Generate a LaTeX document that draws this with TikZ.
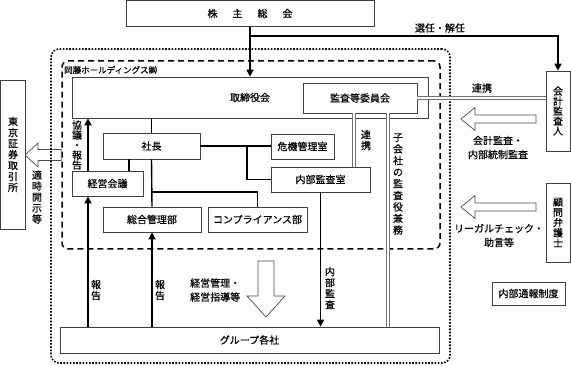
\documentclass[tikz,border=0pt]{standalone}
\usepackage{fontspec}
\setmainfont{Noto Sans CJK JP}[FakeBold=0.6]
\usetikzlibrary{arrows.meta, positioning}

\begin{document}
\begin{tikzpicture}[
    x=1pt, y=-1pt,
    box/.style={rectangle, draw=black!75, line width=0.7pt, fill=white, inner sep=0pt,
                font=\fontsize{10}{11}\selectfont, align=center},
    conn/.style={line width=1.4pt},
    arrow/.style={-{Triangle[length=7pt, width=7pt]}, line width=1.4pt},
    dbl/.style={draw=black!55, double=white, double distance=1.8pt, line width=0.7pt},
    hollow/.style={draw=black!70, fill=white, line width=0.7pt},
    lbl/.style={font=\fontsize{10}{14}\selectfont, align=center, inner sep=0pt},
    vlbl/.style={font=\fontsize{10}{11}\selectfont, align=center, inner sep=0pt}
  ]
    \useasboundingbox (0,0) rectangle (571,366);

    % frames
    \node[draw, line width=1.5pt, dash pattern=on 6pt off 4pt, rounded corners=6pt,
          minimum width=378, minimum height=188] (hd) at (251,155) {};
    \draw[hollow] (25,155) -- ++(13,-12) -- ++(0,6.5) -- (hd.west |- 0,149.5)
        -- (hd.west |- 0,160.5) -- (38,160.5) -- (38,167) -- cycle;
    \node[draw, line width=1.6pt, dash pattern=on 1.6pt off 1.6pt, rounded corners=8pt,
          minimum width=399, minimum height=314] (gf) at (250.5,206) {};
    \node[anchor=west, inner sep=0pt, font=\fontsize{8.5}{10}\selectfont] (hdname) at (64,70) {岡藤ホールディングス㈱};

    % boxes
    \node[box, minimum width=248, minimum height=26] (gsm) at (250,13.5)
        {株\hspace*{15pt}主\hspace*{15pt}総\hspace*{15pt}会};
    \node[box, minimum width=356, minimum height=41] (board) at (250,97.5) {取締役会};
    \node[box, minimum width=114, minimum height=30] (acb) at (360,98) {監査等委員会};
    \node[box, minimum width=24, minimum height=80, font=\fontsize{10}{10}\selectfont] (aud) at (558,111)
        {会\\計\\監\\査\\人};
    \node[box, minimum width=24, minimum height=79, font=\fontsize{10}{10.3}\selectfont] (law) at (558,222.5)
        {顧\\問\\弁\\護\\士};
    \node[box, minimum width=73, minimum height=23] (whistle) at (528.5,293.5) {内部通報制度};
    \node[box, minimum width=24.5, minimum height=149] (tse) at (13,154.5)
        {東\\京\\証\\券\\取\\引\\所};
    \node[box, minimum width=97, minimum height=26] (pres) at (151.5,146) {社長};
    \node[box, minimum width=71, minimum height=25] (mgmt) at (107.5,183.5) {経営会議};
    \node[box, minimum width=63, minimum height=25] (risk) at (302.5,146.5) {危機管理室};
    \node[box, minimum width=99, minimum height=25] (ia) at (320.5,179.5) {内部監査室};
    \node[box, minimum width=98, minimum height=25] (gen) at (152,219.5) {総合管理部};
    \node[box, minimum width=99, minimum height=25] (comp) at (257.5,219.5) {コンプライアンス部};
    \node[box, minimum width=379, minimum height=26] (group) at (249.5,340) {グループ各社};

    % connectors
    \coordinate (split) at (250,36);
    \draw[arrow] (gsm.south) -- (board.north);
    \draw[arrow] (split) -| (aud.north);
    \draw[conn] (pres.north |- board.south) -- (pres.north);
    \draw[conn] (pres.south -| 129,0) -- (mgmt.north -| 129,0);
    \draw[conn] (pres.east) -- (risk.west |- pres.east);
    \draw[conn] (pres.east -| 247,0) |- (ia.west);
    \draw[conn] (pres.south) -- (gen.north);
    \draw[conn] (pres.south |- 0,192) -| (comp.north);
    \draw[arrow] (mgmt.north -| 88,0) -- (board.south -| 88,0);
    \draw[arrow] (group.north -| 88,0) -- (mgmt.south -| 88,0);
    \draw[arrow] (group.north -| gen.south) -- (gen.south);
    \draw[arrow] (ia.south) -- (ia.south |- group.north);
    \draw[dbl] (acb.east) -- (acb.east -| aud.west);
    \draw[dbl] (acb.south -| 354,0) -- (ia.north -| 354,0);
    \draw[dbl] (acb.south -| 388,0) -- (group.north -| 388,0);

    % hollow arrows
    \draw[hollow] (461,119) -- ++(14,-11.5) -- ++(0,7.5) -- ++(61,0) -- ++(0,8)
        -- ++(-61,0) -- ++(0,7.5) -- cycle;
    \draw[hollow] (461,207) -- ++(14,-11.5) -- ++(0,7.5) -- ++(61,0) -- ++(0,8)
        -- ++(-61,0) -- ++(0,7.5) -- cycle;
    \draw[hollow] (266,317) -- ++(-19,-21) -- ++(11,0) -- ++(0,-35) -- ++(16,0)
        -- ++(0,35) -- ++(11,0) -- cycle;

    % labels
    \node[lbl] (elect) at (440,28) {選任・解任};
    \node[lbl] (coop1) at (482,88) {連携};
    \node[lbl] (auditlbl) at (498,147.5) {会計監査・\\内部統制監査};
    \node[lbl] (legallbl) at (499,235.5) {リーガルチェック・\\助言等};
    \node[lbl, anchor=west, align=left] (guide) at (190,290) {経営管理・\\経営指導等};
    \node[vlbl] (tdlbl) at (37,197) {適\\時\\開\\示\\等};
    \node[vlbl, font=\fontsize{10}{10}\selectfont] (kyogi) at (77,145) {協\\議\\・\\報\\告};
    \node[vlbl] (rep1) at (96,290) {報\\告};
    \node[vlbl] (rep2) at (160,290) {報\\告};
    \node[vlbl] (coop2) at (366,140) {連\\携};
    \node[vlbl, font=\fontsize{10}{11.6}\selectfont] (sub) at (398,184)
        {子\\会\\社\\の\\監\\査\\役\\兼\\務};
    \node[vlbl] (ialbl) at (330,288) {内\\部\\監\\査};
\end{tikzpicture}
\end{document}
